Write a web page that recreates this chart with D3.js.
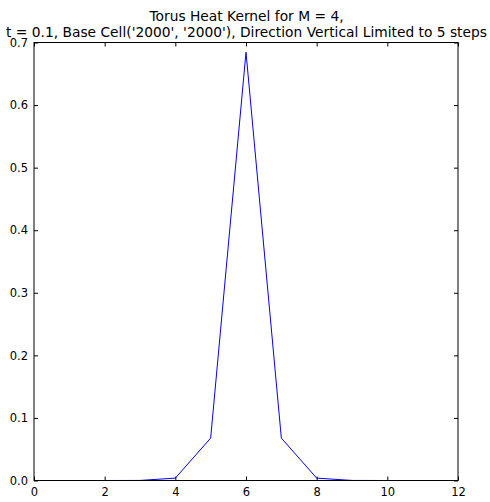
<!DOCTYPE html>
<html><head><meta charset="utf-8">
<script src="https://cdn.jsdelivr.net/npm/d3@7"></script>
<style>body{margin:0;background:#fff}svg{display:block}text{font-family:"DejaVu Sans",sans-serif}</style>
</head><body>
<svg id="c" width="490" height="502"></svg>
<script>
const steps = [0,1,2,3,4,5,6,7,8,9,10,11,12];
const kernel = [0,0,0,0.0001,0.0038,0.0678,0.6845,0.0678,0.0038,0.0001,0,0,0];
const xTicks = [0,2,4,6,8,10,12];
const yTicks = [0,0.1,0.2,0.3,0.4,0.5,0.6,0.7];
const titleLines = ["Torus Heat Kernel for M = 4,", "t = 0.1, Base Cell('2000', '2000'), Direction Vertical Limited to 5 steps"];

const svg = d3.select("#c");
const L=34, R=458, T=42.5, B=480.5;
const x = d3.scaleLinear().domain([0,12]).range([L,R]);
const y = d3.scaleLinear().domain([0,0.7]).range([B,T]);

svg.append("rect").attr("x",L).attr("y",T).attr("width",R-L).attr("height",B-T).attr("fill","#fff");

svg.append("path").datum(steps.map((s,i)=>[s,kernel[i]]))
  .attr("fill","none").attr("stroke","#0000ff").attr("stroke-width",1)
  .attr("d", d3.line().x(d=>x(d[0])).y(d=>y(d[1])));

const ax = (g)=>{g.selectAll(".domain").remove(); g.selectAll("line").attr("stroke","#000"); g.selectAll("text").attr("font-size","11.5px").attr("fill","#000");};
svg.append("g").attr("transform",`translate(0,${B})`).call(d3.axisBottom(x).tickValues(xTicks).tickSize(-4).tickPadding(7).tickFormat(d3.format("d"))).call(ax);
svg.append("g").attr("transform",`translate(0,${T})`).call(d3.axisTop(x).tickValues(xTicks).tickSize(-4).tickFormat("")).call(ax);
svg.append("g").attr("transform",`translate(${L},0)`).call(d3.axisLeft(y).tickValues(yTicks).tickSize(-4).tickPadding(6).tickFormat(d3.format(".1f"))).call(ax);
svg.append("g").attr("transform",`translate(${R},0)`).call(d3.axisRight(y).tickValues(yTicks).tickSize(-4).tickFormat("")).call(ax);

svg.append("rect").attr("x",L).attr("y",T).attr("width",R-L).attr("height",B-T).attr("fill","none").attr("stroke","#000").attr("stroke-width",1);

svg.append("g").selectAll("text").data(titleLines).join("text")
  .attr("x",(L+R)/2 + 0.5).attr("y",(d,i)=>21+i*16).attr("text-anchor","middle")
  .attr("font-size","13.8px").attr("fill","#000").text(d=>d);
</script>
</body></html>
